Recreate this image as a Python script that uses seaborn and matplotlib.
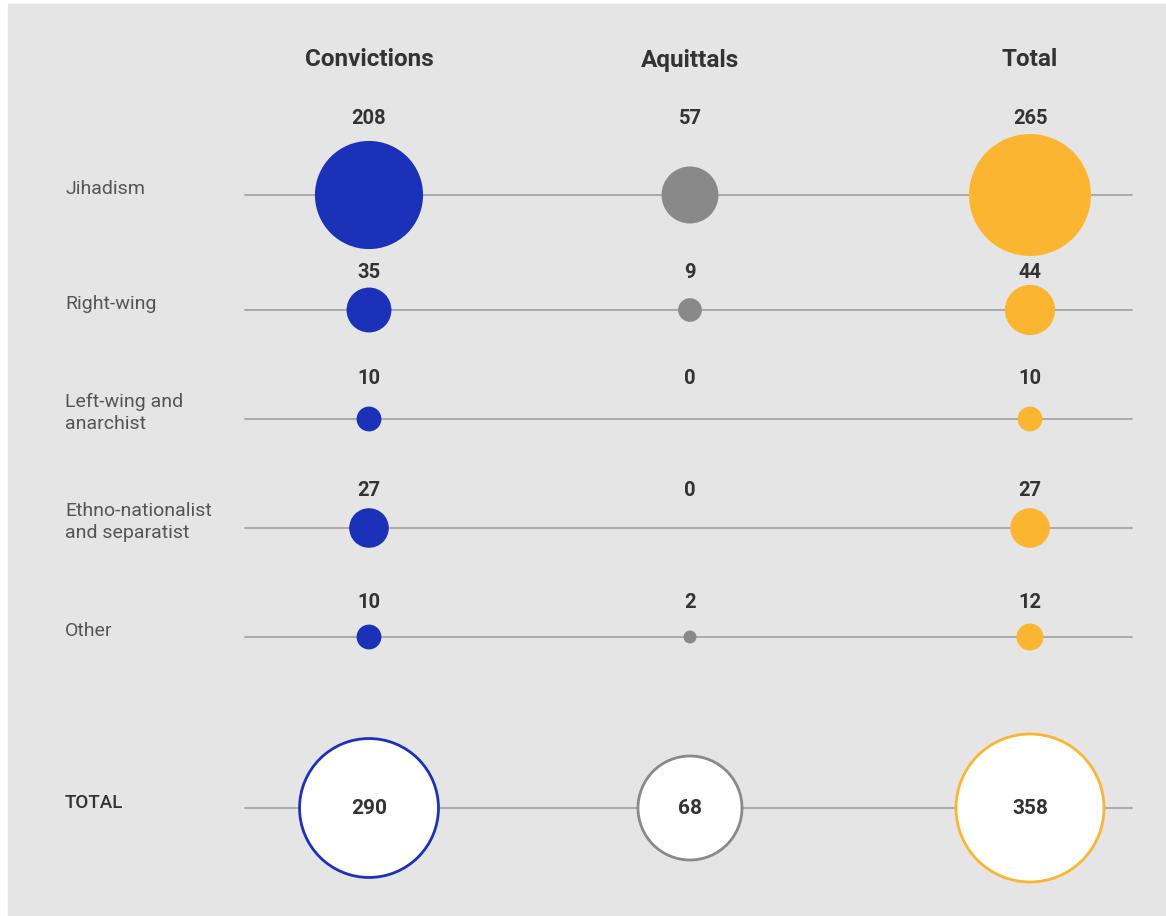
import pandas as pd
import matplotlib.pyplot as plt
import seaborn as sns
from matplotlib.patches import Rectangle

# Data
categories = ['Jihadism', 'Right-wing', 'Left-wing and\nanarchist',
              'Ethno-nationalist\nand separatist', 'Other']
convictions = [208, 35, 10, 27, 10]
aquittals = [57, 9, 0, 0, 2]
total = [265, 44, 10, 27, 12]
columns = ['Convictions', 'Aquittals', 'Total']
grand_total = [290, 68, 358]

# Layout (pixel coordinates on a 1166x916 canvas)
col_x = [369, 690, 1030]
row_y = [195, 310, 419, 528, 637]
label_y = [118, 272, 379, 490, 602]
total_y = 808
colors = ['#1a31b8', '#898989', '#fbb531']
bg = '#e5e5e5'
text_dark = '#333333'
text_row = '#555555'

# Long table for the category rows
rows = []
for i, cat in enumerate(categories):
    for j, vals in enumerate([convictions, aquittals, total]):
        rows.append({'cat': cat, 'col': columns[j], 'value': vals[i],
                     'x': col_x[j], 'y': row_y[i], 'ly': label_y[i]})
df = pd.DataFrame(rows)
df_tot = pd.DataFrame({'col': columns, 'value': grand_total,
                       'x': col_x, 'y': [total_y] * 3})

sns.set_theme(style='white')
plt.rcParams['font.family'] = ['Roboto', 'DejaVu Sans']

fig = plt.figure(figsize=(11.66, 9.16), dpi=100)
ax = fig.add_axes([0, 0, 1, 1])
ax.set_xlim(0, 1166)
ax.set_ylim(916, 0)
ax.axis('off')
ax.add_patch(Rectangle((8, 4), 1166, 916, color=bg, zorder=0))

# horizontal guide lines
for y in row_y + [total_y]:
    ax.plot([245, 1132], [y, y], color='#aaaaaa', lw=1.4, zorder=1)

# px radius -> marker area in pt^2
def area(r):
    return (2 * r * 0.72) ** 2

palette = dict(zip(columns, colors))
sns.scatterplot(data=df[df['value'] > 0], x='x', y='y', hue='col', size='value',
                sizes=(area(6.5), area(61)), palette=palette, linewidth=0,
                legend=False, ax=ax, zorder=3)

sns.scatterplot(data=df_tot, x='x', y='y', size='value',
                sizes=(area(52), area(74)), color='white', edgecolor=colors,
                linewidth=2, legend=False, ax=ax, zorder=3)

# headers
for j, name in enumerate(columns):
    ax.text(col_x[j], 60, name, ha='center', va='center', fontsize=17.5,
            fontweight='bold', color=text_dark)

# value labels
for _, r in df.iterrows():
    ax.text(r['x'], r['ly'], str(r['value']), ha='center', va='center',
            fontsize=14.5, fontweight='bold', color=text_dark, zorder=4)
for _, r in df_tot.iterrows():
    ax.text(r['x'], r['y'], str(r['value']), ha='center', va='center',
            fontsize=15, fontweight='bold', color=text_dark, zorder=4)

# row labels
for i, cat in enumerate(categories):
    ax.text(65, row_y[i] - 6, cat, ha='left', va='center', fontsize=14,
            color=text_row, linespacing=1.25)
ax.text(65, total_y - 5, 'TOTAL', ha='left', va='center', fontsize=13.5,
        fontweight='medium', color=text_dark)

ax.set_xlabel('')
ax.set_ylabel('')
fig.savefig('out.png', dpi=100)
